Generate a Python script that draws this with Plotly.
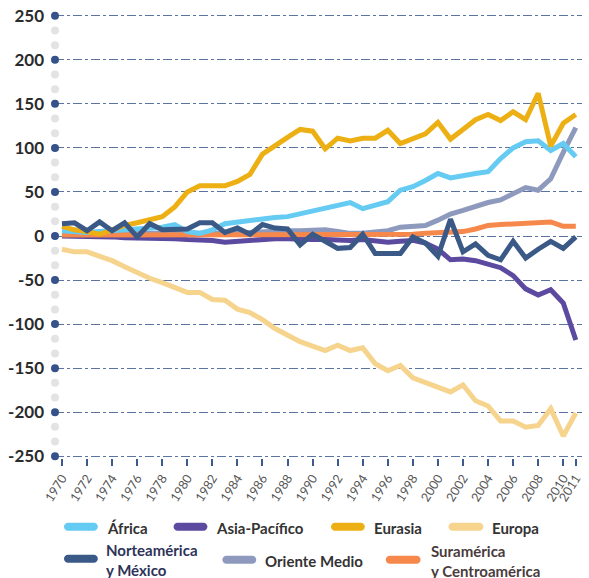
import plotly.graph_objects as go

years = list(range(1970, 2012))

africa = [6, 5, 4, 5, 6, 6, 8, 8, 10, 13, 5, 3, 7, 14, 16, 18, 20, 21, 22, 25,
          28, 31, 35, 38, 31, 35, 39, 52, 56, 63, 71, 66, 69, 71, 73, 88, 100, 107, 108, 97,
          105, 90]
asia_pacifico = [0, 0, -1, -1, -1, -2, -2, -2, -3, -3, -4, -4, -5, -7, -6, -4, -3, -3, -3, -4,
                 -4, -4, -5, -5, -4, -5, -7, -6, -5, -8, -15, -27, -26, -28, -32, -36, -45, -60, -67, -61,
                 -76, -118]
eurasia = [11, 7, 5, 2, 7, 12, 15, 18, 22, 33, 50, 57, 57, 57, 62, 70, 93, 103, 112, 121,
           119, 99, 111, 108, 111, 111, 120, 105, 110, 116, 129, 110, 121, 132, 138, 131, 141, 132, 162, 102,
           128, 138]
europa = [-15, -18, -18, -23, -28, -35, -42, -48, -53, -58, -64, -64, -72, -73, -83, -87, -95, -105, -113, -120,
          -125, -130, -124, -130, -127, -145, -153, -147, -161, -166, -171, -177, -169, -187, -193, -210, -210, -217, -215, -196,
          -227, -201]
norteamerica = [14, 15, 6, 16, 6, 15, -1, 14, 7, 8, 8, 15, 15, 4, 9, 2, 13, 9, 8, -10,
                2, -6, -14, -13, 2, -20, -20, -20, -1, -8, -23, 19, -18, -9, -22, -27, -6, -25, -15, -6,
                -14, -1]
oriente_medio = [3, 3, 3, 2, 3, 3, 3, 2, 2, 2, 2, 2, 2, 3, 3, 4, 5, 6, 6, 6,
                 6, 7, 5, 3, 3, 4, 6, 10, 11, 12, 18, 25, 29, 34, 38, 41, 48, 55, 52, 65,
                 95, 123]
suramerica = [1, 1, 1, 1, 1, 1, 1, 1, 1, 1, 1, 1, 1, 1, 1, 1, 1, 2, 2, 2,
              1, 1, 1, 2, 2, 2, 2, 2, 2, 3, 4, 4, 5, 8, 12, 13, 14, 15, 16, 16,
              11, 11]

series_names = ["África", "Asia-Pacífico", "Eurasia", "Europa",
                "Norteamérica<br>y México", "Oriente Medio", "Suramérica<br>y Centroamérica"]
colors = {
    "África": "#66cbf2",
    "Asia-Pacífico": "#5b4a9f",
    "Eurasia": "#ecb014",
    "Europa": "#f6d48e",
    "Norteamérica<br>y México": "#3b5987",
    "Oriente Medio": "#8e9abd",
    "Suramérica<br>y Centroamérica": "#f5884a",
}
data = {
    "África": africa,
    "Asia-Pacífico": asia_pacifico,
    "Eurasia": eurasia,
    "Europa": europa,
    "Norteamérica<br>y México": norteamerica,
    "Oriente Medio": oriente_medio,
    "Suramérica<br>y Centroamérica": suramerica,
}

y_tick_vals = [250, 200, 150, 100, 50, 0, -50, -100, -150, -200, -250]
y_tick_text = ["250", "200", "150", "100", "50", "0", "-50", "-100", "-150", "-200", "-250"]
x_tick_vals = list(range(1970, 2011, 2)) + [2011]
x_tick_text = [str(v) for v in x_tick_vals]

# layout geometry (pixels)
W, H = 589, 578
ML, MR, MT, MB = 55, 5, 13, 120
PW = W - ML - MR
PH = H - MT - MB
X0 = 1969.444
X1 = X0 + PW / 12.58

fig = go.Figure()

draw_order = ["Europa", "Oriente Medio", "Asia-Pacífico", "Suramérica<br>y Centroamérica",
              "África", "Eurasia", "Norteamérica<br>y México"]
for name in draw_order:
    fig.add_trace(go.Scatter(
        x=years, y=data[name], mode="lines", name=name.replace("<br>", " "),
        line=dict(color=colors[name], width=5), showlegend=False, hoverinfo="skip"))

# decorative axis dots: grey minor, navy major
minor_dots = [v / 3 * 50 for v in range(-15, 16) if v % 3 != 0]
fig.add_trace(go.Scatter(
    x=[X0] * len(minor_dots), y=minor_dots, mode="markers",
    marker=dict(color="#e3e3e3", size=8), cliponaxis=False, showlegend=False, hoverinfo="skip"))
fig.add_trace(go.Scatter(
    x=[X0] * len(y_tick_vals), y=y_tick_vals, mode="markers",
    marker=dict(color="#36528a", size=8), cliponaxis=False, showlegend=False, hoverinfo="skip"))


def px_to_paper(px, py):
    return (px - ML) / PW, (H - MB - py) / PH


def pill_path(x0, x1, yc, h=8):
    r = h / 2
    k = 0.5523 * r
    pts = [
        ("M", [(x0 + r, yc - r)]),
        ("L", [(x1 - r, yc - r)]),
        ("C", [(x1 - r + k, yc - r), (x1, yc - k), (x1, yc)]),
        ("C", [(x1, yc + k), (x1 - r + k, yc + r), (x1 - r, yc + r)]),
        ("L", [(x0 + r, yc + r)]),
        ("C", [(x0 + r - k, yc + r), (x0, yc + k), (x0, yc)]),
        ("C", [(x0, yc - k), (x0 + r - k, yc - r), (x0 + r, yc - r)]),
    ]
    s = ""
    for cmd, ps in pts:
        coords = []
        for (a, b) in ps:
            pa, pb = px_to_paper(a, b)
            coords.append(f"{pa:.5f},{pb:.5f}")
        s += cmd + " " + " ".join(coords) + " "
    return s + "Z"


legend_layout = [
    # name, line x0, line x1, line y, text x, text color
    ("África", 64, 98, 527, 105, "#333333"),
    ("Asia-Pacífico", 174, 208, 527, 215, "#333333"),
    ("Eurasia", 332, 366, 527, 373, "#333333"),
    ("Europa", 450, 485, 527, 492, "#333333"),
    ("Norteamérica<br>y México", 64, 98, 559, 104, "#2e3358"),
    ("Oriente Medio", 223, 257, 560, 264, "#333333"),
    ("Suramérica<br>y Centroamérica", 387, 422, 560, 430, "#4a3c3c"),
]
shapes = []
annotations = []
for name, lx0, lx1, ly, tx, tcol in legend_layout:
    shapes.append(dict(type="path", xref="paper", yref="paper", path=pill_path(lx0, lx1, ly),
                       fillcolor=colors[name], line=dict(width=0)))
    ax, ay = px_to_paper(tx, ly + 1)
    annotations.append(dict(x=ax, y=ay, xref="paper", yref="paper", text=name, showarrow=False,
                            xanchor="left", yanchor="middle", align="left",
                            font=dict(family="Lato", size=15, color=tcol, weight="bold")))

fig.update_layout(
    width=W, height=H,
    margin=dict(l=ML, r=MR, t=MT, b=MB),
    paper_bgcolor="white", plot_bgcolor="white",
    shapes=shapes, annotations=annotations,
    showlegend=False,
    xaxis=dict(range=[X0, X1], tickvals=x_tick_vals, ticktext=x_tick_text, tickangle=-58,
               showgrid=False, zeroline=False, showline=False,
               ticks="outside", ticklen=7, tickwidth=1.5, tickcolor="#3d5a8e",
               tickfont=dict(family="Lato", size=12.5, color="#555555")),
    yaxis=dict(range=[-252, 252], tickvals=y_tick_vals, ticktext=y_tick_text,
               showgrid=True, gridcolor="#5a73a0", gridwidth=1, griddash="dashdot",
               zeroline=False, showline=False, ticks="", ticklabelstandoff=10,
               tickfont=dict(family="Lato", size=17, color="#2b2b2b", weight="bold")),
)

fig.write_html("out.html", config={"displayModeBar": False},
               post_script="document.body.style.margin='0px';document.body.style.overflow='hidden';")
